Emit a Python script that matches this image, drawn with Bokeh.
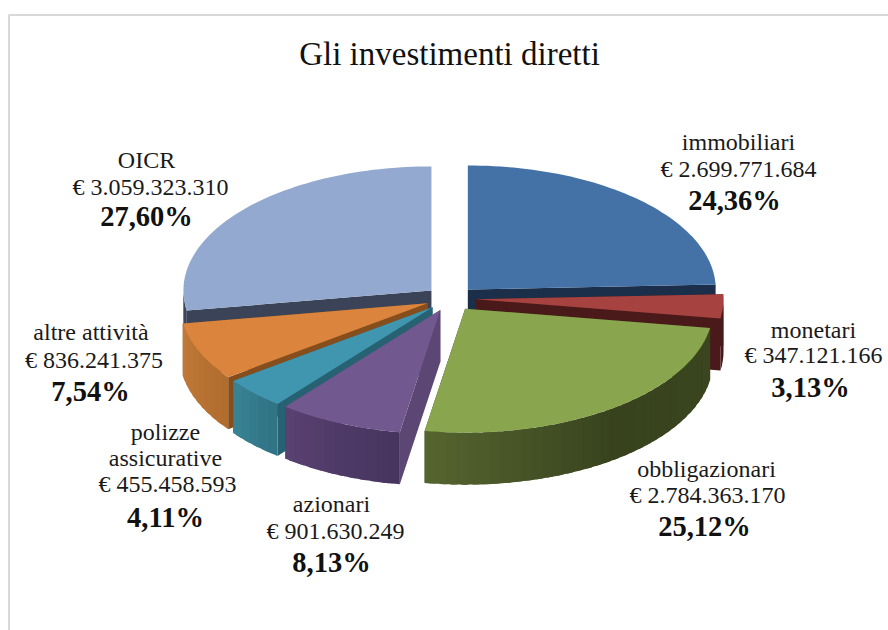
import math
from bokeh.plotting import figure
from bokeh.models import Range1d
from bokeh.core.properties import value
from bokeh.embed import file_html
from bokeh.resources import INLINE

# ---- data ----
categories = ["immobiliari", "monetari", "obbligazionari", "azionari",
              "polizze assicurative", "altre attività", "OICR"]
amounts = [2699771684, 347121166, 2784363170, 901630249, 455458593, 836241375, 3059323310]
amount_labels = ["€ 2.699.771.684", "€ 347.121.166", "€ 2.784.363.170", "€ 901.630.249",
                 "€ 455.458.593", "€ 836.241.375", "€ 3.059.323.310"]
percent_labels = ["24,36%", "3,13%", "25,12%", "8,13%", "4,11%", "7,54%", "27,60%"]
title_text = "Gli investimenti diretti"

# ---- style / layout ----
CX, CY, RX, RY, EXPLODE, DEPTH = 450, 298, 248, 124, 25, 52
top_colors = ["#4471a6", "#a64240", "#89a54e", "#71588f", "#4096ae", "#db843d", "#93a9cf"]
wall_stops = [["#1b2e4a", "#1b2e4a"], ["#4a1a1a", "#4a1a1a"],
              ["#3a461f", "#38431e", "#55652f"], ["#46345e", "#4f3a67", "#5a4272"],
              ["#2f7283", "#3a8496"], ["#b06c2e", "#c17a38"], ["#3a4358", "#3a4358"]]
cut_colors = ["#1b2e4a", "#4a1a1a", "#3a461f", "#5c4673", "#276273", "#864e1c", "#3a4358"]
paint_order = [0, 6, 5, 1, 4, 3, 2]
# lines of each label: x and y of the name lines, then amount, then percent
label_layout = [
    ([(738, 141.5)], (738, 168.5), (734, 200)),
    ([(813, 329.5)], (813, 354.5), (810, 387)),
    ([(706, 468.5)], (707, 494.5), (704, 526)),
    ([(331, 503.5)], (335, 530.5), (331, 562)),
    ([(165, 431.5), (165, 457.5)], (167, 483.5), (165, 517)),
    ([(90.5, 331.5)], (93.5, 359.5), (90, 391)),
    ([(146, 159.5)], (150, 186.5), (146, 216)),
]
name_lines = [["immobiliari"], ["monetari"], ["obbligazionari"], ["azionari"],
              ["polizze", "assicurative"], ["altre attività"], ["OICR"]]
SERIF = "Liberation Serif"


def lerp_color(stops, t):
    f = t * (len(stops) - 1)
    i = min(int(f), len(stops) - 2)
    f -= i
    a, b = stops[i], stops[i + 1]
    ch = [round(int(a[k:k + 2], 16) * (1 - f) + int(b[k:k + 2], 16) * f) for k in (1, 3, 5)]
    return "#%02x%02x%02x" % tuple(ch)


def point(ax, ay, deg):
    r = math.radians(deg)
    return ax + RX * math.sin(r), ay - RY * math.cos(r)


total = sum(amounts)
starts, ends = [], []
acc = 0.0
for a in amounts:
    starts.append(acc / total * 360)
    acc += a
    ends.append(acc / total * 360)

xs, ys, colors = [], [], []


def add(px, py, c):
    xs.append(px)
    ys.append(py)
    colors.append(c)


for s in paint_order:
    a0, a1 = starts[s], ends[s]
    mid = math.radians((a0 + a1) / 2)
    ax = CX + EXPLODE * math.sin(mid)
    ay = CY - EXPLODE * 0.5 * math.cos(mid)
    # cut faces
    for ang in (a0, a1):
        ex, ey = point(ax, ay, ang)
        add([ax, ex, ex, ax], [ay, ey, ey + DEPTH, ay + DEPTH], cut_colors[s])
    # outer wall, shaded in strips that overlap a little so no seams show
    w0, w1 = max(a0, 90), min(a1, 270)
    if w1 > w0:
        n = max(2, int((w1 - w0) / 2.5))
        for i in range(n):
            b0 = w0 + (w1 - w0) * i / n
            b1 = w1 if i == n - 1 else w0 + (w1 - w0) * (i + 1.6) / n
            steps = 4
            pts = [point(ax, ay, b0 + (b1 - b0) * k / steps) for k in range(steps + 1)]
            add([q[0] for q in pts] + [q[0] for q in reversed(pts)],
                [q[1] for q in pts] + [q[1] + DEPTH for q in reversed(pts)],
                lerp_color(wall_stops[s], (i + 0.5) / n))
    # top
    n = max(3, int((a1 - a0) / 1.5))
    arc = [point(ax, ay, a0 + (a1 - a0) * i / n) for i in range(n + 1)]
    add([ax] + [q[0] for q in arc], [ay] + [q[1] for q in arc], top_colors[s])

p = figure(width=888, height=630, output_backend="svg", toolbar_location=None,
           x_range=Range1d(0, 888), y_range=Range1d(630, 0),
           min_border=0, outline_line_color=None, background_fill_color="white")
p.axis.visible = False
p.grid.visible = False

# frame of the picture
p.line([8.5, 8.5, 888], [630, 14.5, 14.5], line_color="#d9d9d9", line_width=2)

p.patches(xs, ys, fill_color=colors, line_color=None)

p.text([449], [53.5], text=[title_text], text_font=value(SERIF), text_font_size=value("33px"),
       text_color="#111111", text_align="center", text_baseline="middle")

reg_x, reg_y, reg_t, bold_x, bold_y, bold_t = [], [], [], [], [], []
for i, (nm_pos, am, pc) in enumerate(label_layout):
    for (nx, ny), nm in zip(nm_pos, name_lines[i]):
        reg_x.append(nx); reg_y.append(ny); reg_t.append(nm)
    reg_x.append(am[0]); reg_y.append(am[1]); reg_t.append(amount_labels[i])
    bold_x.append(pc[0]); bold_y.append(pc[1]); bold_t.append(percent_labels[i])

p.text(reg_x, reg_y, text=reg_t, text_font=value(SERIF), text_font_size=value("24px"),
       text_color="#1a1a1a", text_align="center", text_baseline="middle")
p.text(bold_x, bold_y, text=bold_t, text_font=value(SERIF), text_font_size=value("28.5px"),
       text_font_style="bold", text_color="#111111", text_align="center", text_baseline="middle")

open("out.html", "w").write(file_html(p, INLINE))
